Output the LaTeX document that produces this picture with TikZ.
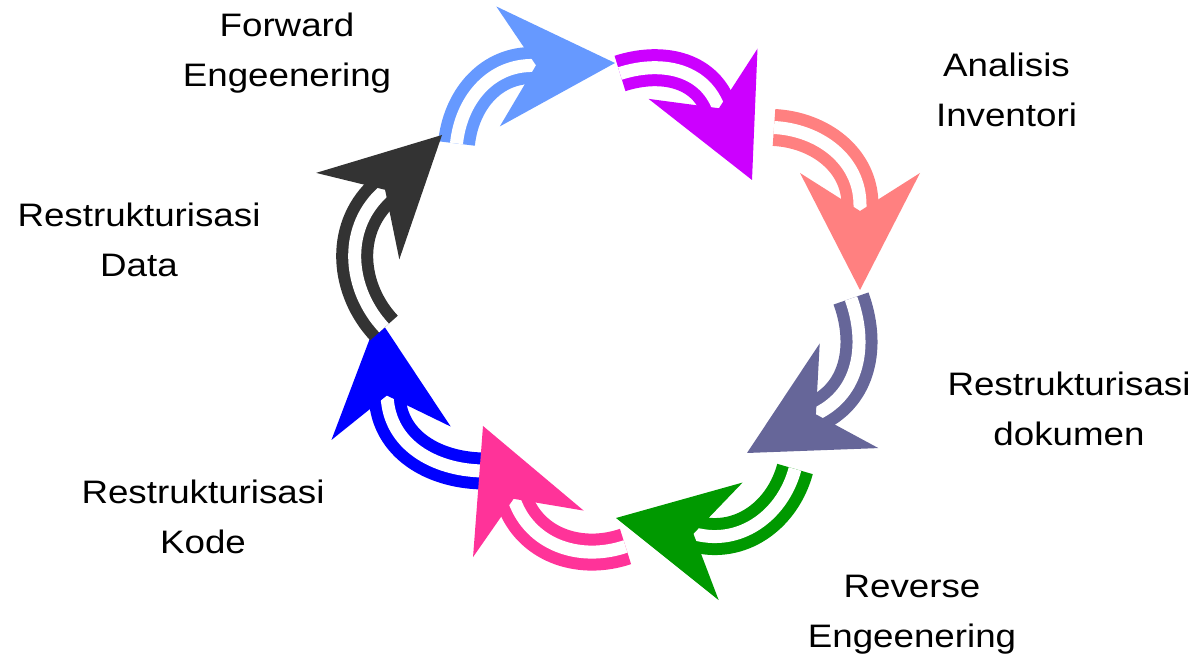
\documentclass[tikz,border=0pt]{standalone}
\usepackage{fontspec}
\setmainfont{Liberation Sans}[FakeStretch=1.13]
\usetikzlibrary{arrows.meta}

\definecolor{cfwd}{HTML}{6699FF}
\definecolor{cinv}{HTML}{CC00FF}
\definecolor{cana}{HTML}{FF8080}
\definecolor{cdok}{HTML}{666699}
\definecolor{crev}{HTML}{009900}
\definecolor{ckod}{HTML}{FF3399}
\definecolor{cdat}{HTML}{0000FF}
\definecolor{cend}{HTML}{333333}

\tikzset{
  cycarrow/.style={line width=0.24cm, double=white, double distance=0.26cm,
    -{Stealth[length=2.34cm, width=2.4cm, inset=0.76cm, line width=0pt]}},
  lbl/.style={align=center, font=\fontsize{18.5}{29}\selectfont, anchor=base}
}

\begin{document}
\begin{tikzpicture}
\useasboundingbox (0,0) rectangle (23.96,13.26);

% the cycle, clockwise from the top
\draw[cycarrow,cfwd] (9.13,10.39) to[out=84,in=181.7] (10.60,11.95) -- (12.30,12.00);
\draw[cycarrow,cinv] (12.40,11.79) to[out=18,in=114.8] (14.33,11.20) -- (15.04,9.66);
\draw[cycarrow,cana] (15.48,10.71) to[out=-3,in=90] (17.20,9.16) -- (17.20,7.46);
\draw[cycarrow,cdok] (17.02,7.29) to[out=-70,in=29.3] (16.42,5.03) -- (14.94,4.20);
\draw[cycarrow,crev] (15.90,3.88) to[out=-105,in=-11.5] (13.99,2.56) -- (12.32,2.90);
\draw[cycarrow,cdat] (9.70,3.84) to[out=180,in=-83.7] (7.75,5.23) -- (7.56,6.92);
\draw[cycarrow,ckod] (12.51,2.33) to[out=198.7,in=-67.2] (10.32,3.17) -- (9.66,4.74);
\draw[cycarrow,cend] (7.68,6.70) to[out=133,in=-136.1] (7.615,9.381) -- (8.84,10.56);

% labels (base = last line)
\node[lbl] (fwd) at (5.74,11.52) {Forward\\Engeenering};
\node[lbl] (inv) at (20.13,10.72) {Analisis\\Inventori};
\node[lbl] (dok) at (21.38,4.34) {Restrukturisasi\\dokumen};
\node[lbl] (rev) at (18.24,0.30) {Reverse\\Engeenering};
\node[lbl] (kod) at (4.06,2.18) {Restrukturisasi\\Kode};
\node[lbl] (dat) at (2.78,7.72) {Restrukturisasi\\Data};
\end{tikzpicture}
\end{document}
